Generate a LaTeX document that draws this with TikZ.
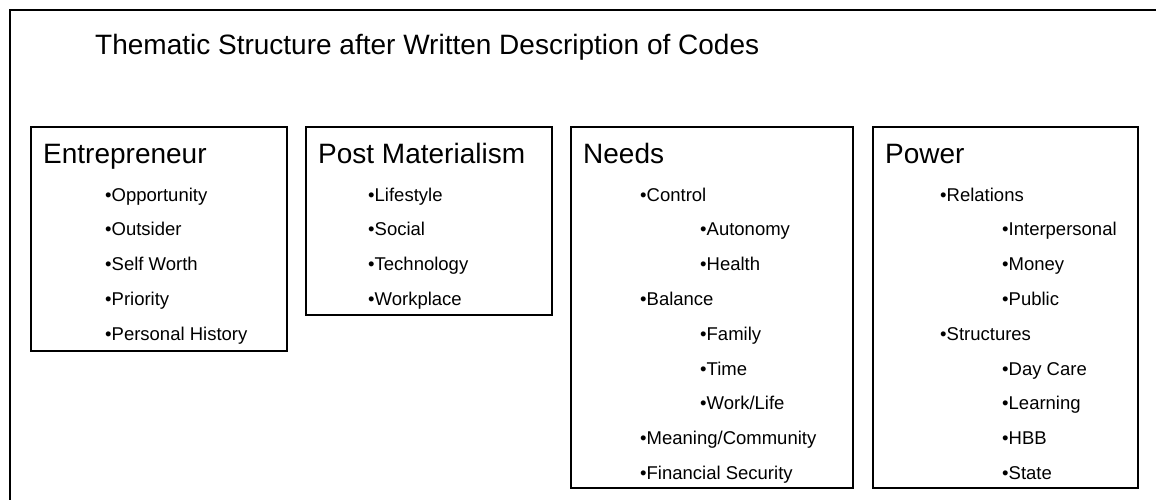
\documentclass[tikz,border=0pt]{standalone}
\usepackage{fontspec}
\setmainfont{Liberation Sans}
\begin{document}
\begin{tikzpicture}[x=1pt,y=-1pt,
  frame/.style={line width=2.8pt},
  box/.style={draw, line width=1.4pt, inner sep=0pt, outer sep=0pt, anchor=north west},
  ttl/.style={anchor=base west, inner sep=0pt, font=\fontsize{28}{30}\selectfont},
  hdr/.style={anchor=base west, inner sep=0pt, font=\fontsize{28}{30}\selectfont},
  itm/.style={anchor=base west, inner sep=0pt, font=\fontsize{18.5}{20}\selectfont}]
\useasboundingbox (0,0) rectangle (1156,500);
\coordinate (fb) at (10,502);
\coordinate (fc) at (10,10);
\coordinate (fr) at (1158,10);
\draw[frame] (fb) -- (fc) -- (fr);
\node[ttl] (title) at (95,55) {Thematic Structure after Written Description of Codes};
% boxes
\node[box, minimum width=256pt, minimum height=224pt] (b1) at (31,127) {};
\node[box, minimum width=246pt, minimum height=188pt] (b2) at (306,127) {};
\node[box, minimum width=282pt, minimum height=361pt] (b3) at (571,127) {};
\node[box, minimum width=265pt, minimum height=361pt] (b4) at (873,127) {};
% headers
\node[hdr] (h1) at (43,163) {Entrepreneur};
\node[hdr] (h2) at (318,163) {Post Materialism};
\node[hdr] (h3) at (583,163) {Needs};
\node[hdr] (h4) at (885,163) {Power};
% Entrepreneur items
\node[itm] (e1) at (105,201) {•Opportunity};
\node[itm] (e2) at (105,235.8) {•Outsider};
\node[itm] (e3) at (105,270.6) {•Self Worth};
\node[itm] (e4) at (105,305.4) {•Priority};
\node[itm] (e5) at (105,340.2) {•Personal History};
% Post Materialism items
\node[itm] (p1) at (368,201) {•Lifestyle};
\node[itm] (p2) at (368,235.8) {•Social};
\node[itm] (p3) at (368,270.6) {•Technology};
\node[itm] (p4) at (368,305.4) {•Workplace};
% Needs items
\node[itm] (n1) at (640,201) {•Control};
\node[itm] (n2) at (700,235.8) {•Autonomy};
\node[itm] (n3) at (700,270.6) {•Health};
\node[itm] (n4) at (640,305.4) {•Balance};
\node[itm] (n5) at (700,340.2) {•Family};
\node[itm] (n6) at (700,375) {•Time};
\node[itm] (n7) at (700,409.8) {•Work/Life};
\node[itm] (n8) at (640,444.6) {•Meaning/Community};
\node[itm] (n9) at (640,479.4) {•Financial Security};
% Power items
\node[itm] (w1) at (940,201) {•Relations};
\node[itm] (w2) at (1002,235.8) {•Interpersonal};
\node[itm] (w3) at (1002,270.6) {•Money};
\node[itm] (w4) at (1002,305.4) {•Public};
\node[itm] (w5) at (940,340.2) {•Structures};
\node[itm] (w6) at (1002,375) {•Day Care};
\node[itm] (w7) at (1002,409.8) {•Learning};
\node[itm] (w8) at (1002,444.6) {•HBB};
\node[itm] (w9) at (1002,479.4) {•State};
\end{tikzpicture}
\end{document}
